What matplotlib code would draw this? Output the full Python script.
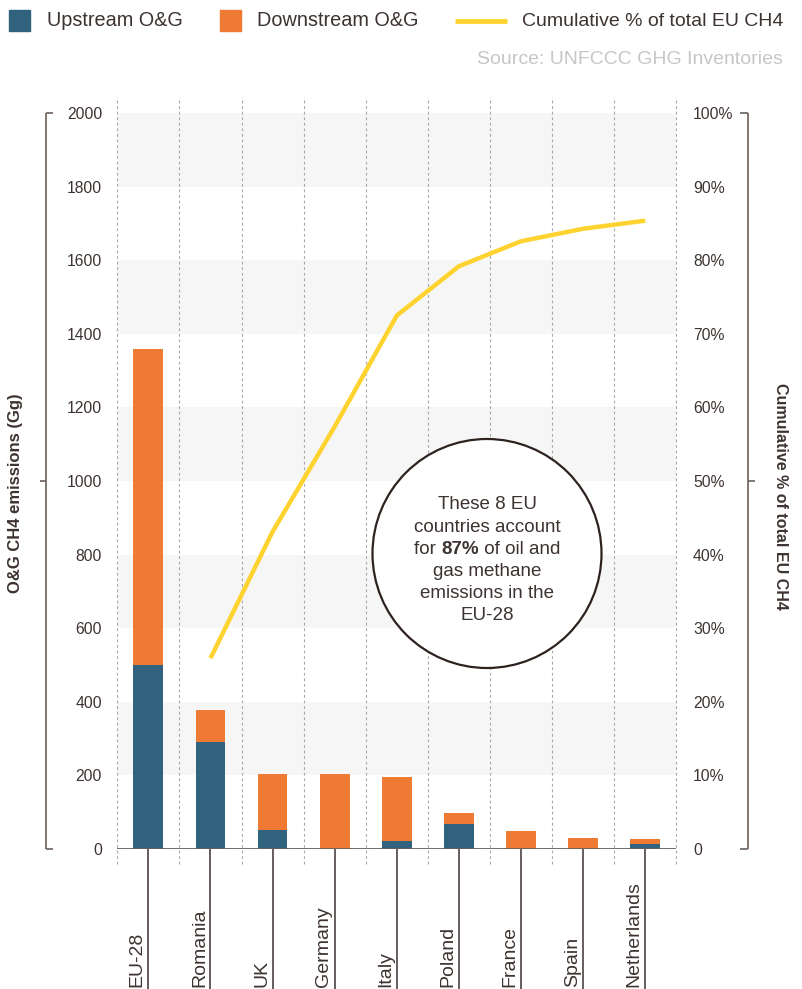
import matplotlib
matplotlib.use("Agg")
import matplotlib.pyplot as plt
import matplotlib.transforms as mtransforms
from matplotlib.patches import Rectangle, Ellipse
from matplotlib.lines import Line2D

plt.rcParams['font.family'] = ['Liberation Sans', 'DejaVu Sans']

# datos de emisiones de metano del sector O&G (Gg) y acumulado (%)
paises = ["EU-28", "Romania", "UK", "Germany", "Italy", "Poland", "France", "Spain", "Netherlands"]
upstream = [500, 290, 51, 0, 21, 67, 0, 0, 13]
downstream = [860, 87, 152, 203, 174, 30, 48, 29, 13]
acumulado = [None, 25.9, 43.1, 57.4, 72.5, 79.2, 82.6, 84.3, 85.4]

ticks_izq = [0, 200, 400, 600, 800, 1000, 1200, 1400, 1600, 1800, 2000]
ticks_der = [0, 10, 20, 30, 40, 50, 60, 70, 80, 90, 100]

AZUL = "#31637f"
NARANJA = "#ee7a33"
AMARILLO = "#fed330"
TEXTO = "#3d3330"
EJE = "#6b605a"

W, H = 802, 989
fig = plt.figure(figsize=(W / 100, H / 100), dpi=100)


def fx(x):
    return x / W


def fy(y):
    return 1 - y / H


ax = fig.add_axes([fx(117.3), fy(848.7), (676.3 - 117.3) / W, (848.7 - 113.3) / H])
ax.set_xlim(-0.5, len(paises) - 0.5)
ax.set_ylim(0, 2000)
for s in ax.spines.values():
    s.set_visible(False)

# bandas grises
for y0 in range(200, 2000, 400):
    ax.axhspan(y0, y0 + 200, color="#f6f6f6", zorder=0, lw=0)

x = list(range(len(paises)))
ax.bar(x, upstream, width=0.48, color=AZUL, zorder=3)
ax.bar(x, downstream, width=0.48, bottom=upstream, color=NARANJA, zorder=3)

# lineas punteadas entre paises
ax.vlines([i - 0.5 for i in range(len(paises) + 1)], -42, 2045, colors="#a8a8a8",
          linestyles=(0, (2.5, 2.5)), lw=0.8, zorder=1, clip_on=False)
# linea base y marcas hacia abajo
ax.axhline(0, color=EJE, lw=1.3, zorder=4)
ax.vlines(x, -400, 0, colors=TEXTO, lw=1.1, zorder=4, clip_on=False)

ax.set_xticks([])
ax.set_yticks(ticks_izq)
ax.set_yticklabels([str(t) for t in ticks_izq])
ax.tick_params(axis="y", length=0, pad=11, labelsize=11.3, labelcolor=TEXTO)

# nombres de paises rotados
trans = mtransforms.blended_transform_factory(ax.transData, fig.transFigure)
trans = mtransforms.offset_copy(trans, fig=fig, x=-6.5, y=0, units="dots")
for i, p in enumerate(paises):
    ax.text(i, fy(987), p, transform=trans, rotation=90, rotation_mode="anchor",
            ha="left", va="baseline", fontsize=14, color=TEXTO)

# eje derecho con el acumulado
ax2 = ax.twinx()
ax2.set_ylim(0, 100)
for s in ax2.spines.values():
    s.set_visible(False)
xs = [i for i, v in zip(x, acumulado) if v is not None]
ys = [v for v in acumulado if v is not None]
ax2.plot(xs, ys, color=AMARILLO, lw=3.2, solid_capstyle="butt", zorder=5)
ax2.set_yticks(ticks_der)
ax2.set_yticklabels(["0"] + [f"{t}%" for t in ticks_der[1:]])
ax2.tick_params(axis="y", length=0, pad=12, labelsize=11.3, labelcolor=TEXTO)

# ejes verticales tipo corchete
def linea(xa, ya, xb, yb):
    fig.add_artist(Line2D([fx(xa), fx(xb)], [fy(ya), fy(yb)], color=EJE, lw=1.2,
                          solid_capstyle="butt"))

linea(46, 113.3, 46, 848.7)
linea(46, 113.3, 53, 113.3)
linea(46, 848.7, 53, 848.7)
linea(40, 481, 46, 481)
linea(748, 113.3, 748, 848.7)
linea(740, 113.3, 748, 113.3)
linea(740, 848.7, 748, 848.7)
linea(748, 481, 755, 481)

fig.text(fx(16), fy(493), "O&G CH4 emissions (Gg)", rotation=90, ha="center", va="center",
         fontsize=12, fontweight="bold", color=TEXTO)
fig.text(fx(781), fy(496), "Cumulative % of total EU CH4", rotation=-90, ha="center", va="center",
         fontsize=11.5, fontweight="bold", color=TEXTO)

# leyenda
fig.add_artist(Rectangle((fx(9), fy(31)), 21 / W, 21 / H, color=AZUL, transform=fig.transFigure))
fig.text(fx(47), fy(21), "Upstream O&G", fontsize=14.3, color=TEXTO, va="center")
fig.add_artist(Rectangle((fx(220), fy(31)), 21 / W, 21 / H, color=NARANJA, transform=fig.transFigure))
fig.text(fx(257), fy(21), "Downstream O&G", fontsize=14.3, color=TEXTO, va="center")
fig.add_artist(Line2D([fx(455), fx(507)], [fy(21), fy(21)], color=AMARILLO, lw=3.5,
                      solid_capstyle="butt"))
fig.text(fx(783), fy(21), "Cumulative % of total EU CH4", fontsize=14, color=TEXTO,
         ha="right", va="center")
fig.text(fx(783), fy(60), "Source: UNFCCC GHG Inventories", fontsize=14, color="#c6c6c6",
         ha="right", va="center")

# circulo con la nota
cx, cy, r = 487, 553.5, 114.5
fig.add_artist(Ellipse((fx(cx), fy(cy)), 2 * r / W, 2 * r / H, facecolor="white",
                       edgecolor="#2d221e", lw=1.6, transform=fig.transFigure, zorder=6))
lineas = ["These 8 EU", "countries account", None, "gas methane", "emissions in the", "EU-28"]
paso = 22
y0 = 560 - 2.5 * paso
for k, t in enumerate(lineas):
    if t is not None:
        fig.text(fx(cx), fy(y0 + k * paso), t, ha="center", va="center", fontsize=13.5,
                 color=TEXTO, zorder=7)

# tercera linea con el 87% en negrita
partes = [("for ", "normal"), ("87%", "bold"), (" of oil and", "normal")]
renderer = fig.canvas.get_renderer()
textos = []
anchos = []
for t, w in partes:
    tx = fig.text(0, fy(y0 + 2 * paso), t, ha="left", va="center", fontsize=13.5,
                  fontweight=w, color=TEXTO, zorder=7)
    textos.append(tx)
    anchos.append(tx.get_window_extent(renderer).width)
xpos = cx - sum(anchos) / 2
for tx, a in zip(textos, anchos):
    tx.set_x(fx(xpos))
    xpos += a

fig.savefig("out.png", dpi=100)
